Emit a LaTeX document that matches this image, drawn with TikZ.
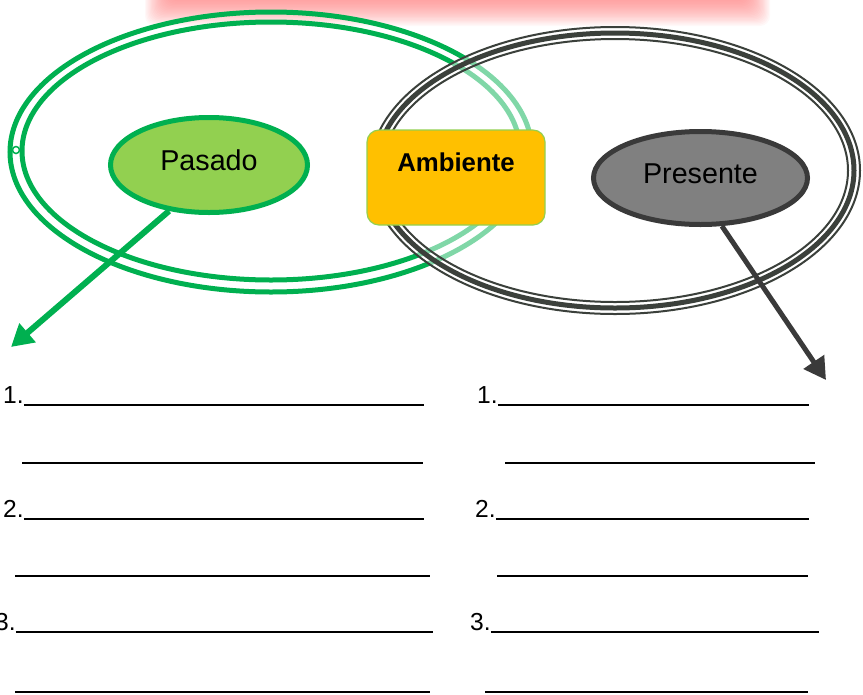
\documentclass[tikz,border=0pt]{standalone}
\usepackage{fontspec}
\setmainfont{Liberation Sans}
\usetikzlibrary{arrows.meta, shapes.geometric}

\definecolor{verde}{HTML}{00B050}
\definecolor{verdeclaro}{HTML}{92D050}
\definecolor{ambar}{HTML}{FFC000}
\definecolor{grisanillo}{HTML}{3B403B}
\definecolor{grisoscuro}{HTML}{3A3A3A}
\definecolor{grismedio}{HTML}{808080}

\newlength\pxu
\setlength\pxu{0.03cm}
\newcommand{\linea}[1]{\rule[-2.2pt]{#1\pxu}{1.6pt}}

\begin{document}
\begin{tikzpicture}[x=0.03cm, y=-0.03cm]
    % Definizione stili
    \tikzset{
        anillo/.style={draw=verde, line width=5\pxu},
        anillogris/.style={draw=grisanillo, line width=#1\pxu},
        ovalo/.style={
            ellipse, 
            line width=5\pxu, 
            text depth=8pt,
            font=\fontsize{24.5}{29}\selectfont
        },
        caja/.style={
            rectangle, 
            draw=verdeclaro, 
            fill=ambar, 
            rounded corners=12\pxu, 
            minimum width=5.34cm, 
            minimum height=2.85cm, 
            text height=16pt, 
            text depth=26pt,
            font=\fontsize{22}{26}\selectfont\bfseries, 
            line width=1pt
        },
        flecha/.style={-{Triangle[length=18.7pt, width=20.4pt]}},
        respuesta/.style={anchor=base west, inner sep=0pt, font=\fontsize{21}{25}\selectfont}
    }
    \useasboundingbox (0,0) rectangle (863,694);

    % Ombra rosa in alto
    \foreach \k in {0,...,19}
        \fill[red!55, opacity=0.05, rounded corners=10\pxu] (145+\k*1.2,-10) rectangle (770-\k*1.2,26-\k*1.3);

    % Anelli verdi (pasado)
    \draw[anillo] (271,152) ellipse [x radius=261, y radius=140];
    \draw[anillo] (271,151) ellipse [x radius=249, y radius=129];
    \draw[verde, fill=white, line width=1.5\pxu] (16,150) circle [radius=3.5];

    % Anelli grigi (presente)
    \fill[white, opacity=0.5] (615,170.5) ellipse [x radius=245, y radius=143.5];
    \draw[anillogris=2] (615,170.5) ellipse [x radius=245, y radius=143.5];
    \draw[anillogris=5] (615,170.5) ellipse [x radius=239, y radius=137.5];
    \draw[anillogris=2] (615,170.5) ellipse [x radius=233, y radius=131.5];

    % Nodi
    \node[ovalo, draw=verde, fill=verdeclaro, minimum width=5.91cm, minimum height=2.85cm] 
        (pasado) at (209,165) {Pasado};
    \node[caja] (ambiente) at (456,177.5) {Ambiente};
    \node[ovalo, draw=grisoscuro, fill=grismedio, minimum width=6.42cm, minimum height=2.79cm] 
        (presente) at (700.5,178) {Presente};

    % Frecce
    \coordinate (finpasado) at (11,347);
    \coordinate (finpresente) at (826,380);
    \draw[flecha, draw=verde, fill=verde, line width=6\pxu] (pasado.229) -- (finpasado);
    \draw[flecha, draw=grisoscuro, fill=grisoscuro, line width=5\pxu] (presente.294) -- (finpresente);

    % Righe da completare
    \node[respuesta] (izq1) at (3,403) {1.\linea{400}};
    \node[respuesta] (izq1b) at (22,461) {\linea{401}};
    \node[respuesta] (izq2) at (3,517) {2.\linea{400}};
    \node[respuesta] (izq2b) at (15,574) {\linea{415}};
    \node[respuesta] (izq3) at (-5,630) {3.\linea{417}};
    \node[respuesta] (izq3b) at (15,690) {\linea{415}};

    \node[respuesta] (der1) at (477,403) {1.\linea{311}};
    \node[respuesta] (der1b) at (505,461) {\linea{310}};
    \node[respuesta] (der2) at (475,517) {2.\linea{313}};
    \node[respuesta] (der2b) at (497,574) {\linea{311}};
    \node[respuesta] (der3) at (470,630) {3.\linea{328}};
    \node[respuesta] (der3b) at (485,690) {\linea{323}};

\end{tikzpicture}
\end{document}
